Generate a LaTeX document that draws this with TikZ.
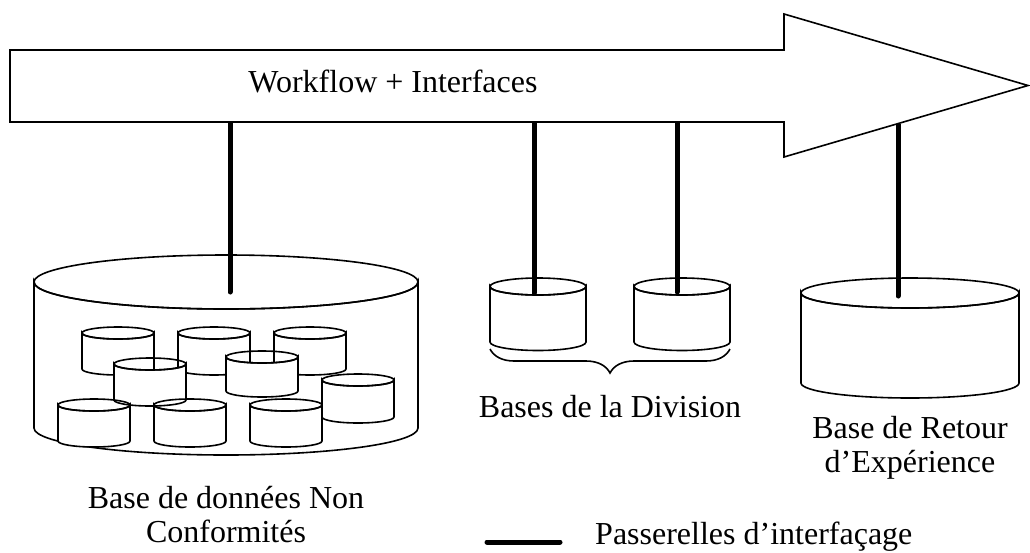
\documentclass[tikz,border=0pt]{standalone}
\usepackage{fontspec}
\setmainfont{Liberation Serif}
\usetikzlibrary{decorations.pathreplacing}
\tikzset{
  thinline/.style={line width=1.6pt, line join=miter},
  gateway/.style={line width=5pt, line cap=round},
  lbl/.style={inner sep=0pt, anchor=base, font=\fontsize{32}{36}\selectfont},
}
% cylinder: cx, top-centre y, bottom-centre y, rx, ry
\newcommand\dbcyl[5]{%
  \filldraw[thinline, fill=white] ({#1-#4},#2) -- ({#1-#4},#3)
    arc[start angle=180, end angle=0, x radius=#4, y radius=#5]
    -- ({#1+#4},#2) arc[start angle=0, end angle=180, x radius=#4, y radius=#5] -- cycle;
  \draw[thinline] (#1,#2) ellipse[x radius=#4, y radius=#5];
}
\begin{document}
\begin{tikzpicture}[x=1pt, y=-1pt]
\useasboundingbox (0,0) rectangle (1030,552);
% big arrow
\draw[thinline, fill=white] (10,50) -- (784,50) -- (784,14) -- (1028,85.5) -- (784,157) -- (784,122) -- (10,122) -- cycle;
\node[lbl] (wf) at (393,92) {Workflow + Interfaces};
% big database
\dbcyl{226}{282}{428}{192}{27}
\dbcyl{118}{333}{369}{36}{6}
\dbcyl{214}{333}{369}{36}{6}
\dbcyl{310}{333}{369}{36}{6}
\dbcyl{150}{364}{400}{36}{6}
\dbcyl{262}{357}{391}{36}{6}
\dbcyl{358}{380}{417}{36}{6}
\dbcyl{94}{405}{441}{36}{6}
\dbcyl{190}{405}{441}{36}{6}
\dbcyl{286}{405}{441}{36}{6}
% division bases
\dbcyl{538}{286.5}{342}{48}{8.5}
\dbcyl{682}{286.5}{342}{48}{8.5}
% retour base
\dbcyl{910}{293}{383}{109}{15}
% gateway end points
\coordinate (g1a) at (230,122); \coordinate (g1b) at (230,292);
\coordinate (g2a) at (534,122); \coordinate (g2b) at (534,293);
\coordinate (g3a) at (677,122); \coordinate (g3b) at (677,292);
\coordinate (g4a) at (898,124); \coordinate (g4b) at (898,296);
\draw[gateway, line cap=butt] (g1a) -- (230,200);
\draw[gateway] (230,199) -- (g1b);
\draw[gateway, line cap=butt] (g2a) -- (534,200);
\draw[gateway] (534,199) -- (g2b);
\draw[gateway, line cap=butt] (g3a) -- (677,200);
\draw[gateway] (677,199) -- (g3b);
\draw[gateway, line cap=butt] (g4a) -- (898,200);
\draw[gateway] (898,199) -- (g4b);
% brace
\coordinate (brl) at (490,349); \coordinate (brr) at (730,349);
\draw[thinline, decorate, decoration={brace, mirror, amplitude=24pt}] (brl) -- (brr);
% labels
\node[lbl] (div) at (610,417) {Bases de la Division};
\node[lbl] (ret1) at (910,438) {Base de Retour};
\node[lbl] (ret2) at (910,472) {d’Expérience};
\node[lbl] (nc1) at (226,508) {Base de données Non};
\node[lbl] (nc2) at (226,542) {Conformités};
% legend
\coordinate (lega) at (487,542); \coordinate (legb) at (560,542);
\draw[gateway] (lega) -- (legb);
\node[lbl, anchor=base west] (leg) at (595,544) {Passerelles d’interfaçage};
\end{tikzpicture}
\end{document}
